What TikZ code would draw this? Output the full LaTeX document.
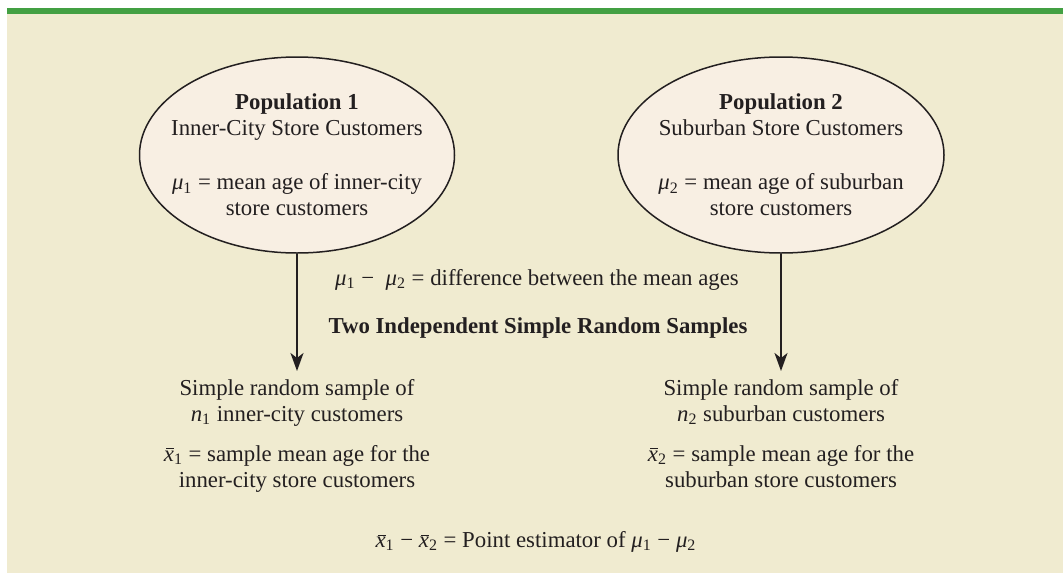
\documentclass[tikz,border=0pt]{standalone}
\definecolor{topgreen}{RGB}{67, 160, 67}
\definecolor{panelbeige}{RGB}{240, 235, 208}
\definecolor{popfill}{RGB}{248, 239, 227}
\definecolor{inkgray}{RGB}{35, 31, 32}
\usepackage{fontspec}
\setmainfont{Liberation Serif}
\usepackage{tikz}
\usetikzlibrary{shapes.geometric, arrows.meta, positioning}
\newcommand{\popmu}[1]{\textit{μ}\textsubscript{#1}}
\newcommand{\sampbar}[1]{\rlap{\kern0.1em\rule[1.15ex]{0.36em}{0.045em}}\textit{x}\textsubscript{#1}}

\begin{document}
\begin{tikzpicture}[
  x=0.5pt, y=-0.5pt,
  every node/.style={text=inkgray, font=\fontsize{11.4}{13}\selectfont, align=center},
  popnode/.style={ellipse, draw=inkgray, line width=0.75pt, fill=popfill, inner sep=0pt, minimum height=98pt},
  sampnode/.style={anchor=north, inner sep=4pt},
  flowarrow/.style={draw=inkgray, line width=1pt, -{Stealth[length=9pt, width=6.5pt, inset=2.5pt]}}
]
  \useasboundingbox (0,0) rectangle (1063,573);
  \fill[panelbeige] (7,14) rectangle (1063,573);
  \fill[topgreen] (7,8) rectangle (1063,14);

  % populations
  \node[popnode, minimum width=157.5pt] (pop1) at (297,155) {};
  \node (pop1txt) at (pop1.center) {
    \textbf{Population 1}\\
    Inner-City Store Customers\\[14pt]
    \popmu{1} = mean age of inner-city\\
    store customers
  };
  \node[popnode, minimum width=163pt] (pop2) at (781,155) {};
  \node (pop2txt) at (pop2.center) {
    \textbf{Population 2}\\
    Suburban Store Customers\\[14pt]
    \popmu{2} = mean age of suburban\\
    store customers
  };

  \node (diff) at (537,280) {\popmu{1} − \ \popmu{2} = difference between the mean ages};
  \node[font=\fontsize{11.4}{13}\selectfont\bfseries] (indep) at (538,328) {Two Independent Simple Random Samples};

  % samples
  \node[sampnode] (samp1) at (297,371) {
    Simple random sample of\\
    \textit{n}\textsubscript{1} inner-city customers\\[7pt]
    \sampbar{1} = sample mean age for the\\
    inner-city store customers
  };
  \node[sampnode] (samp2) at (781,371) {
    Simple random sample of\\
    \textit{n}\textsubscript{2} suburban customers\\[7pt]
    \sampbar{2} = sample mean age for the\\
    suburban store customers
  };

  \draw[flowarrow] (pop1.south) -- (samp1.north);
  \draw[flowarrow] (pop2.south) -- (samp2.north);

  \node (estim) at (536,542) {\sampbar{1} − \sampbar{2} = Point estimator of \popmu{1} − \popmu{2}};
\end{tikzpicture}
\end{document}
